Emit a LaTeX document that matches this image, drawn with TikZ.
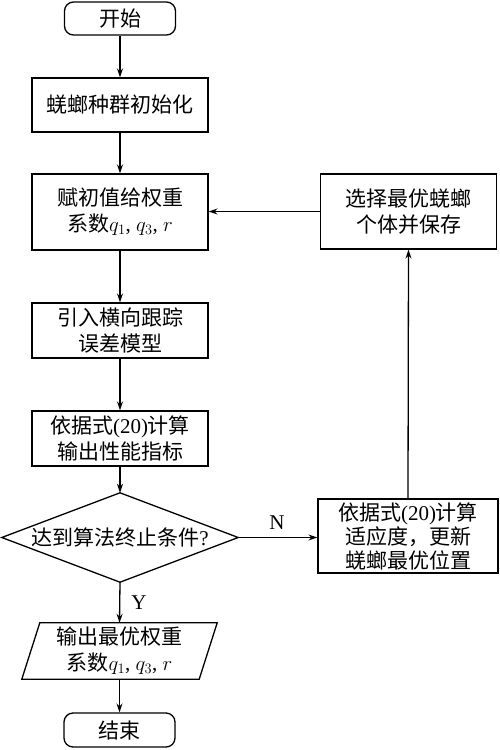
\documentclass[tikz,border=0pt]{standalone}
\usepackage{fontspec}
\setmainfont{Liberation Serif}
\newfontfamily\cjk{Noto Sans CJK SC}
\newcommand{\zh}[1]{{\cjk #1}}
\usetikzlibrary{arrows.meta,calc}
\begin{document}
\begin{tikzpicture}[x=1pt,y=-1pt,
  every node/.style={font=\fontsize{21}{26}\selectfont, align=center, inner sep=0pt},
  box/.style={draw, line width=1.3pt, minimum width=176pt},
  term/.style={draw, line width=1.3pt, rounded corners=9pt, minimum width=111pt, minimum height=33pt},
  arr/.style={line width=1.3pt, -{Stealth[length=9pt,width=6pt]}},
  lab/.style={font=\fontsize{21}{24}\selectfont}]
\useasboundingbox (0,0) rectangle (500,750);
\node[term] (start) at (120,18.5) {\zh{开始}};
\node[box, minimum height=54pt] (b1) at (120,105) {\zh{蜣螂种群初始化}};
\node[box, minimum height=76pt] (b2) at (120,212) {\zh{赋初值给权重}\\\zh{系数}$q_1$, $q_3$, $r$};
\node[box, minimum height=55pt] (b3) at (120,330.5) {\zh{引入横向跟踪}\\\zh{误差模型}};
\node[box, minimum height=55pt] (b4) at (120,438.5) {\zh{依据式}(20)\zh{计算}\\\zh{输出性能指标}};
\node[minimum width=236pt, minimum height=89pt] (dec) at (120,537.5) {\zh{达到算法终止条件}?};
\draw[line width=1.3pt] (dec.north) -- (dec.east) -- (dec.south) -- (dec.west) -- cycle;
\node[minimum width=195pt, minimum height=56pt] (out) at (119.5,651) {\zh{输出最优权重}\\\zh{系数}$q_1$, $q_3$, $r$};
\draw[line width=1.3pt] (out.south west) -- ($(out.north west)+(18,0)$) -- (out.north east) -- ($(out.south east)+(-18,0)$) -- cycle;
\node[term, minimum height=34pt] (end) at (119.5,730) {\zh{结束}};
\node[box, minimum width=176pt, minimum height=75pt] (rt) at (408.5,211.5) {\zh{选择最优蜣螂}\\\zh{个体并保存}};
\node[box, minimum width=180pt, minimum height=74pt, font=\fontsize{21}{24}\selectfont] (rb) at (408,536) {\zh{依据式}(20)\zh{计算}\\\zh{适应度，更新}\\\zh{蜣螂最优位置}};
\node[lab] (n) at (277,523) {N};
\node[lab] (y) at (139,603) {Y};
\draw[arr] (start) -- (b1);
\draw[arr] (b1) -- (b2);
\draw[arr] (b2) -- (b3);
\draw[arr] (b3) -- (b4);
\draw[arr] (b4) -- (dec.north);
\draw[arr] (dec.south) -- (out.north);
\draw[arr] (out.south) -- (end);
\draw[arr] (dec.east) -- (dec.east -| rb.west);
\draw[arr] (rb.north) -- (rt.south);
\draw[arr] (rt.west) -- (rt.west -| b2.east);
\end{tikzpicture}
\end{document}
